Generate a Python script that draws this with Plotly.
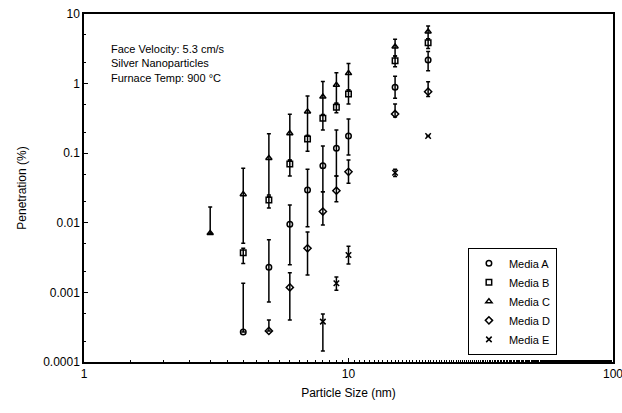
import plotly.graph_objects as go

# Particle sizes (nm) measured for each filter medium
size_a = [4, 5, 6, 7, 8, 9, 10, 15, 20]
size_b = [4, 5, 6, 7, 8, 9, 10, 15, 20]
size_c = [3, 4, 5, 6, 7, 8, 9, 10, 15, 20]
size_d = [5, 6, 7, 8, 9, 10, 15, 20]
size_e = [8, 9, 10, 15, 20]

# Penetration (%) mean values with upper / lower error limits
pen_a = [0.00027, 0.0023, 0.0095, 0.0296, 0.066, 0.1175, 0.177, 0.885, 2.18]
hi_a = [0.00135, 0.0057, 0.018, 0.059, 0.127, 0.216, 0.31, 1.28, 2.9]
lo_a = [0.00027, 0.00073, 0.0025, 0.0088, 0.028, 0.047, 0.094, 0.615, 1.53]

pen_b = [0.0037, 0.0213, 0.070, 0.16, 0.317, 0.456, 0.71, 2.13, 3.87]
hi_b = [0.0043, 0.024, 0.079, 0.18, 0.355, 0.52, 0.81, 2.5, 4.4]
lo_b = [0.0026, 0.0163, 0.047, 0.107, 0.216, 0.38, 0.51, 1.75, 3.2]

pen_c = [0.0071, 0.0257, 0.085, 0.193, 0.395, 0.648, 0.955, 1.41, 3.39, 5.57]
hi_c = [0.0169, 0.061, 0.19, 0.362, 0.664, 1.07, 1.43, 1.95, 4.33, 6.72]
lo_c = [0.0071, 0.0051, 0.025, 0.08, 0.18, 0.36, 0.52, 0.81, 2.5, 4.4]

pen_d = [0.00028, 0.00118, 0.0043, 0.0145, 0.0289, 0.054, 0.366, 0.766]
hi_d = [0.0004, 0.00192, 0.0074, 0.028, 0.047, 0.08, 0.51, 1.06]
lo_d = [0.00028, 0.0004, 0.00178, 0.0093, 0.0201, 0.037, 0.33, 0.65]

pen_e = [0.00038, 0.00135, 0.00344, 0.0525, 0.177]
hi_e = [0.00049, 0.00167, 0.0046, 0.0588, 0.177]
lo_e = [0.000144, 0.00107, 0.00255, 0.0463, 0.177]

series = [
    ("Media A", size_a, pen_a, hi_a, lo_a, "circle-open"),
    ("Media B", size_b, pen_b, hi_b, lo_b, "square-open"),
    ("Media C", size_c, pen_c, hi_c, lo_c, "triangle-up-open"),
    ("Media D", size_d, pen_d, hi_d, lo_d, "diamond-open"),
    ("Media E", size_e, pen_e, hi_e, lo_e, "x-thin-open"),
]

x_ticks = [1, 10, 100]
y_ticks = [0.0001, 0.001, 0.01, 0.1, 1, 10]
y_labels = ["0.0001", "0.001", "0.01", "0.1", "1", "10"]

FONT = "Liberation Sans, Arial, sans-serif"

fig = go.Figure()
for name, xs, ys, hi, lo, sym in series:
    fig.add_trace(go.Scatter(
        x=xs, y=ys, name=name, mode="markers",
        marker=dict(symbol=sym, size=5.5, color="black",
                    line=dict(color="black", width=1.5)),
        error_y=dict(type="data", symmetric=False,
                     array=[h - v for h, v in zip(hi, ys)],
                     arrayminus=[v - l for v, l in zip(ys, lo)],
                     color="black", thickness=1.5, width=2),
    ))

axis_common = dict(
    type="log", showgrid=False, zeroline=False, automargin=False,
    showline=True, linecolor="black", linewidth=1.5, mirror=True,
    ticks="inside", ticklen=4, tickcolor="black",
    ticklabeloverflow="allow",
    minor=dict(ticks="inside", ticklen=2, tickcolor="black"),
    tickfont=dict(family=FONT, size=12, color="black"),
)

fig.update_xaxes(
    **axis_common, range=[0, 2], tickvals=x_ticks,
    ticktext=[str(v) for v in x_ticks],
    title=dict(text="Particle Size (nm)", standoff=8,
               font=dict(family=FONT, size=12, color="black")),
)
fig.update_yaxes(
    **axis_common, range=[-4, 1], tickvals=y_ticks, ticktext=y_labels,
    title=dict(text="Penetration (%)", standoff=14,
               font=dict(family=FONT, size=12, color="black")),
)

fig.add_annotation(
    xref="paper", yref="paper", x=0.048, y=0.922, xanchor="left", yanchor="top",
    align="left", showarrow=False,
    text="Face Velocity: 5.3 cm/s<br>Silver Nanoparticles<br>Furnace Temp: 900 °C",
    font=dict(family=FONT, size=11, color="black"),
)

fig.update_layout(
    width=622, height=413,
    margin=dict(l=84, r=9, t=14, b=51),
    paper_bgcolor="white", plot_bgcolor="white",
    font=dict(family=FONT, size=12, color="black"),
    legend=dict(x=0.894, y=0.328, xanchor="right", yanchor="top",
                bordercolor="black", borderwidth=1, bgcolor="white",
                font=dict(family=FONT, size=11, color="black"),
                itemwidth=30, tracegroupgap=0),
    showlegend=True,
)

fig.write_html("out.html")
